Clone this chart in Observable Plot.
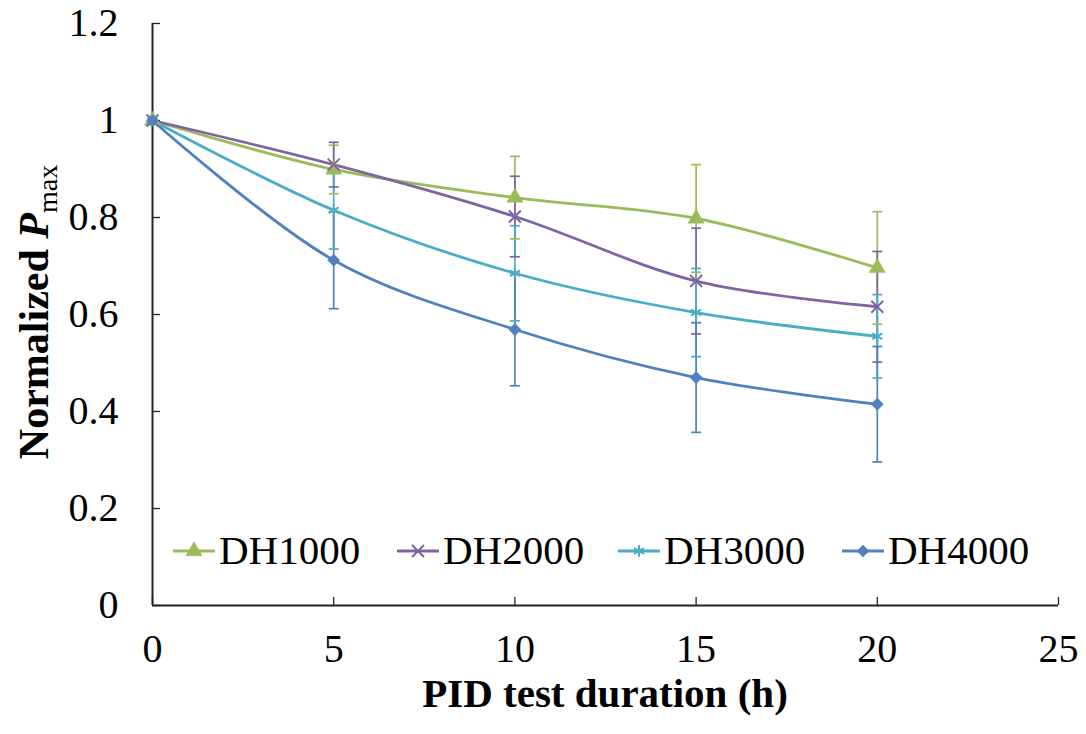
<!DOCTYPE html>
<html>
<head>
<meta charset="utf-8">
<script src="https://cdn.jsdelivr.net/npm/d3@7"></script>
<script src="https://cdn.jsdelivr.net/npm/@observablehq/plot@0.6"></script>
<style>
  html, body { margin: 0; padding: 0; background: #fff; }
  #wrap { position: relative; width: 1086px; height: 734px; }
  #legend { position: absolute; left: 0; top: 0; width: 1086px; height: 734px; pointer-events: none; }
  .item { position: absolute; display: flex; align-items: center; font-family: "Liberation Serif", serif; font-size: 41px; color: #000; line-height: 1; }
  .item svg { margin-right: 4px; }
</style>
</head>
<body>
<div id="wrap"><div id="legend"></div></div>
<script>
// ---- data ----
const hours = [0, 5, 10, 15, 20];
const seriesNames = ["DH1000", "DH2000", "DH3000", "DH4000"];
const dh1000 = [1.0, 0.899, 0.841, 0.798, 0.696];
const dh2000 = [1.0, 0.909, 0.802, 0.669, 0.616];
const dh3000 = [1.0, 0.815, 0.685, 0.604, 0.555];
const dh4000 = [1.0, 0.712, 0.569, 0.470, 0.415];
const err1000 = [0, 0.050, 0.085, 0.111, 0.116];
const err2000 = [0, 0.046, 0.083, 0.109, 0.114];
const err3000 = [0, 0.080, 0.098, 0.091, 0.086];
const err4000 = [0, 0.100, 0.116, 0.113, 0.119];
const xTicks = [0, 5, 10, 15, 20, 25];
const yTicks = [0, 0.2, 0.4, 0.6, 0.8, 1, 1.2];

const colors = ["#9BBB59", "#8064A2", "#4BACC6", "#4F81BD"];
const symbols = ["triangle", "times", "asterisk", "diamond2"];
const filled = [true, false, false, true];
const sizes = [6, 5.5, 5.5, 5.5];

const values = [dh1000, dh2000, dh3000, dh4000];
const errors = [err1000, err2000, err3000, err4000];
const rows = [];
seriesNames.forEach((s, i) => hours.forEach((h, j) => rows.push({series: s, x: h, y: values[i][j], e: errors[i][j]})));
const errRows = rows.filter(d => d.e > 0);

const capSymbol = {
  draw(ctx, size) {
    const r = Math.sqrt(size / Math.PI);
    ctx.moveTo(-r, 0);
    ctx.lineTo(r, 0);
  }
};

const markerMarks = seriesNames.map((s, i) => Plot.dot(rows.filter(d => d.series === s), {
  x: "x", y: "y", symbol: symbols[i], r: sizes[i],
  fill: filled[i] ? colors[i] : "none",
  stroke: colors[i], strokeWidth: filled[i] ? 0.5 : 2
}));

const chart = Plot.plot({
  width: 1086,
  height: 734,
  marginLeft: 152,
  marginRight: 28,
  marginTop: 23,
  marginBottom: 129,
  style: {fontFamily: "'Liberation Serif', serif", fontSize: "40px", color: "#000", background: "#fff"},
  x: {domain: [0, 25], ticks: xTicks},
  y: {domain: [0, 1.2], ticks: yTicks},
  color: {domain: seriesNames, range: colors},
  marks: [
    Plot.axisX({ticks: xTicks, tickSize: 0, tickPadding: 28, label: null, tickFormat: d => String(d), fontSize: 40}),
    Plot.axisX({ticks: xTicks, tickSize: -8, text: null, label: null, stroke: "#222", strokeWidth: 1.3}),
    Plot.axisY({ticks: yTicks, tickSize: 0, tickPadding: 34, label: null, tickFormat: d => String(d), fontSize: 40}),
    Plot.axisY({ticks: yTicks, tickSize: -8, text: null, label: null, stroke: "#222", strokeWidth: 1.3}),
    Plot.ruleX([0], {stroke: "#222", strokeWidth: 2}),
    Plot.ruleY([0], {stroke: "#222", strokeWidth: 2}),
    Plot.ruleX(errRows, {x: "x", y1: d => d.y - d.e, y2: d => d.y + d.e, stroke: "series", strokeWidth: 1.7}),
    Plot.dot(errRows, {x: "x", y: d => d.y + d.e, symbol: capSymbol, r: 5, stroke: "series", strokeWidth: 1.7}),
    Plot.dot(errRows, {x: "x", y: d => d.y - d.e, symbol: capSymbol, r: 5, stroke: "series", strokeWidth: 1.7}),
    Plot.line(rows, {x: "x", y: "y", z: "series", stroke: "series", curve: "catmull-rom", strokeWidth: 2.8}),
    ...markerMarks
  ]
});

const svg = d3.select(chart);
// y axis title
const yt = svg.append("text")
  .attr("transform", "translate(48,312) rotate(-90)")
  .attr("text-anchor", "middle")
  .attr("font-family", "'Liberation Serif', serif")
  .attr("font-size", 42)
  .attr("font-weight", "bold")
  .attr("fill", "#000");
yt.append("tspan").text("Normalized ");
yt.append("tspan").attr("font-style", "italic").text("P");
yt.append("tspan").attr("font-size", 28).attr("font-weight", "normal").attr("dy", 9).text("max");
// x axis title
svg.append("text")
  .attr("x", 605).attr("y", 707)
  .attr("text-anchor", "middle")
  .attr("font-family", "'Liberation Serif', serif")
  .attr("font-size", 41)
  .attr("font-weight", "bold")
  .attr("fill", "#000")
  .text("PID test duration (h)");

document.getElementById("wrap").insertBefore(chart, document.getElementById("legend"));

// legend (inside plot area)
const legendX = [173, 397, 618, 842];
const legend = document.getElementById("legend");
const legendSyms = [d3.symbolTriangle, d3.symbolTimes, d3.symbolAsterisk, d3.symbolDiamond2];
seriesNames.forEach((s, i) => {
  const item = document.createElement("div");
  item.className = "item";
  item.style.left = legendX[i] + "px";
  item.style.top = "530px";
  const sym = d3.symbol(legendSyms[i], Math.PI * sizes[i] * sizes[i])();
  item.innerHTML = `<svg width="42" height="20" viewBox="0 0 42 20"><line x1="0" y1="10" x2="42" y2="10" stroke="${colors[i]}" stroke-width="2.8"/>` +
    `<path transform="translate(21,10)" d="${sym}" fill="${filled[i] ? colors[i] : "none"}" stroke="${colors[i]}" stroke-width="${filled[i] ? 0.5 : 2}"/></svg>` +
    `<span>${s}</span>`;
  legend.appendChild(item);
});
</script>
</body>
</html>
